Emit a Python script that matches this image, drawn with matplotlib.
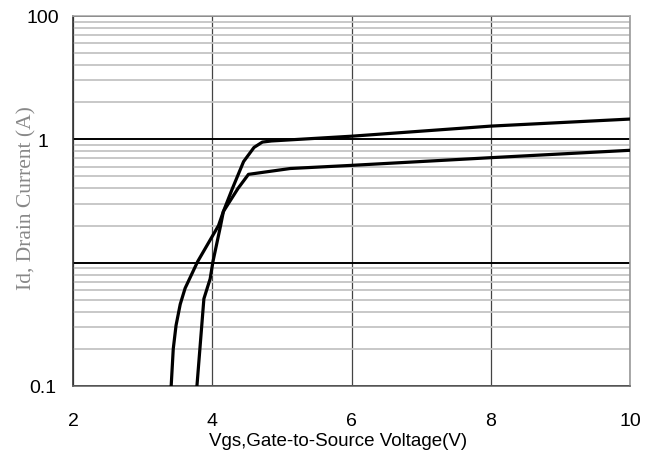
import numpy as np
from matplotlib import pyplot as plt
from matplotlib.ticker import FixedLocator, LogLocator, NullFormatter

# transfer characteristics (Vgs in V, Id in axis units)
vgs_a = [3.78, 3.88, 3.97, 4.01, 4.12, 4.16, 4.29, 4.45, 4.6, 4.72, 4.85, 6.0, 8.0, 10.0]
id_a = [0.1, 0.51, 0.74, 1.02, 2.0, 2.6, 4.0, 6.6, 8.6, 9.5, 9.7, 10.6, 12.8, 14.6]

vgs_b = [3.41, 3.44, 3.48, 3.54, 3.61, 3.79, 4.09, 4.16, 4.37, 4.52, 5.12, 6.0, 8.0, 10.0]
id_b = [0.1, 0.2, 0.31, 0.46, 0.62, 1.02, 2.0, 2.6, 4.0, 5.2, 5.8, 6.15, 7.1, 8.15]

x_ticks = [2, 4, 6, 8, 10]
y_ticks = [0.1, 1, 10, 100]
y_tick_labels = ["0.1", "", "1", "100"]

fig = plt.figure(figsize=(6.56, 4.56), dpi=100)
ax = fig.add_axes([73 / 656, 1 - 387 / 456, 557 / 656, 370 / 456])

ax.set_xlim(2, 10)
ax.set_yscale("log")
ax.set_ylim(0.1, 100)

# grid: light minor lines, dark decade lines
ax.yaxis.set_minor_locator(LogLocator(base=10, subs=np.arange(2, 10)))
ax.yaxis.set_minor_formatter(NullFormatter())
ax.grid(which="minor", axis="y", color="#c4c4c4", linewidth=1.3)
ax.grid(which="major", axis="y", color="black", linewidth=1.4)
ax.grid(which="major", axis="x", color="#444444", linewidth=0.9)

ax.plot(vgs_a, id_a, color="black", linewidth=2.3, zorder=5)
ax.plot(vgs_b, id_b, color="black", linewidth=2.3, zorder=5)

ax.xaxis.set_major_locator(FixedLocator(x_ticks))
ax.set_xticklabels([str(t) for t in x_ticks])
ax.yaxis.set_major_locator(FixedLocator(y_ticks))
ax.set_yticklabels(y_tick_labels)

ax.tick_params(which="both", length=0)
ax.tick_params(axis="x", pad=19, labelsize=14)
ax.tick_params(axis="y", pad=22, labelsize=14)
for lbl in ax.get_yticklabels():
    lbl.set_horizontalalignment("center")
for lbl in ax.get_xticklabels() + ax.get_yticklabels():
    lbl.set_fontfamily("Liberation Sans")

ax.spines["left"].set_color("#333333")
ax.spines["bottom"].set_color("#666666")
ax.spines["top"].set_color("#aaaaaa")
ax.spines["right"].set_color("#999999")
for s in ax.spines.values():
    s.set_linewidth(1.2)

ax.set_xlabel("Vgs,Gate-to-Source Voltage(V)", fontfamily="Liberation Sans",
              fontsize=13.5)
ax.xaxis.set_label_coords(0.476, -0.125)
ax.set_ylabel("Id, Drain Current (A)", fontfamily="Liberation Serif",
              fontsize=15.5, color="#888888")
ax.yaxis.set_label_coords(-0.066, 0.51)

fig.savefig("out.png", dpi=100)
